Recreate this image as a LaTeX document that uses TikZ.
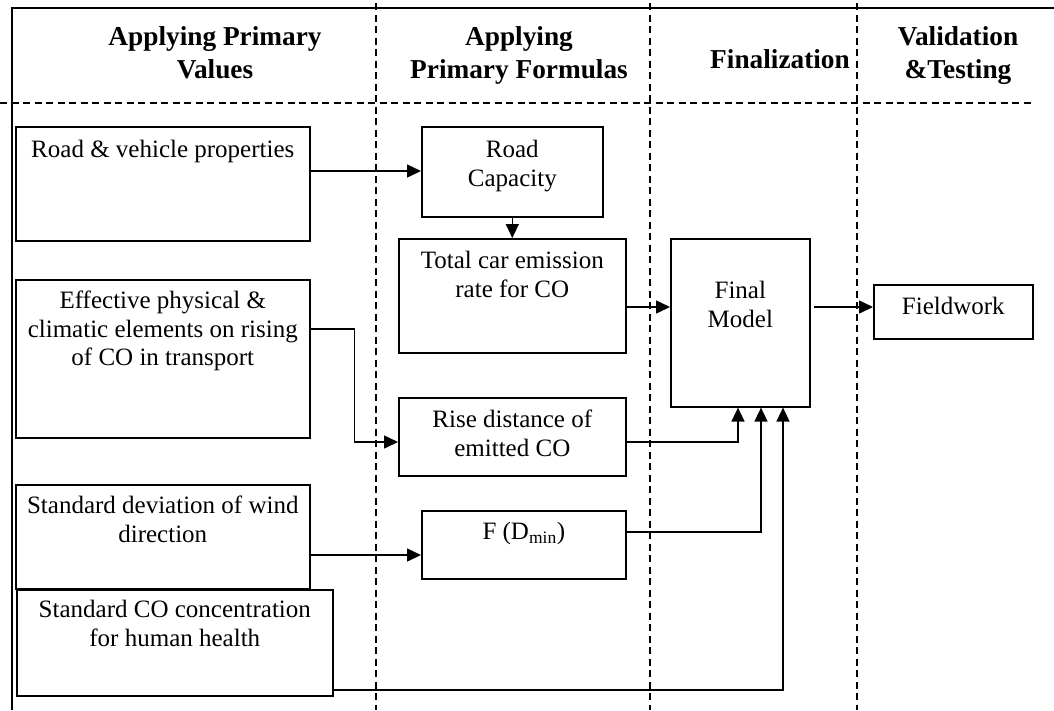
\documentclass[tikz,border=0pt]{standalone}
\usepackage{fontspec}
\setmainfont{Liberation Serif}
\usetikzlibrary{arrows.meta,calc}
\begin{document}
\begin{tikzpicture}[x=1pt,y=-1pt,
  box/.style={draw, line width=1.6pt, rectangle, inner sep=0pt, anchor=north west, fill=white},
  txt/.style={font=\fontsize{25}{28.5}\selectfont, align=center, inner sep=0pt, anchor=north},
  head/.style={font=\bfseries\fontsize{27.3}{32.5}\selectfont, align=center, inner sep=0pt, anchor=north},
  arr/.style={-{Triangle[length=14pt,width=13pt]}, line width=1.5pt},
  grid/.style={line width=1.3pt, dash pattern=on 7pt off 4.5pt},
  frame/.style={line width=1.6pt}]
\useasboundingbox (0,0) rectangle (1054,710);
% lane grid
\draw[grid] (0,103) -- (1033,103);
\draw[grid] (376,3) -- (376,710);
\draw[grid] (650,3) -- (650,710);
\draw[grid] (857,3) -- (857,710);
\draw[frame] (12,710) -- (12,8) -- (1054,8);
% headers
\node[head] (h1) at (215,26.5) {Applying Primary\\Values};
\node[head] (h2) at (519,26.5) {Applying\\Primary Formulas};
\node[head] (h3) at (780,49.5) {Finalization};
\node[head] (h4) at (958,26.5) {Validation\\\&Testing};
% boxes
\node[box, minimum width=294pt, minimum height=114pt,
  label={[txt, yshift=-14pt]north:{Road \& vehicle properties}}] (rv) at (15,126) {};
\node[box, minimum width=294pt, minimum height=158pt,
  label={[txt, yshift=-12pt]north:{Effective physical \&\\climatic elements on rising\\of CO in transport}}] (eff) at (15,279) {};
\node[box, minimum width=294pt, minimum height=104pt,
  label={[txt, yshift=-12pt]north:{Standard deviation of wind\\direction}}] (sdw) at (15,484) {};
\node[box, minimum width=316pt, minimum height=106pt,
  label={[txt, yshift=-11pt]north:{Standard CO concentration\\for human health}}] (sco) at (16,589) {};
\node[box, minimum width=181pt, minimum height=90pt,
  label={[txt, yshift=-14pt]north:{Road\\Capacity}}] (rc) at (421,126) {};
\node[box, minimum width=227pt, minimum height=114pt,
  label={[txt, yshift=-13pt]north:{Total car emission\\rate for CO}}] (tc) at (398,238) {};
\node[box, minimum width=227pt, minimum height=78pt,
  label={[txt, yshift=-13pt]north:{Rise distance of\\emitted CO}}] (rd) at (398,397) {};
\node[box, minimum width=204pt, minimum height=68pt,
  label={[txt, yshift=-12pt]north:{F (D\textsubscript{min})}}] (fd) at (421,510) {};
\node[box, minimum width=139pt, minimum height=168pt,
  label={[txt, yshift=-43pt]north:{Final\\Model}}] (fm) at (670,238) {};
\node[box, minimum width=159pt, minimum height=54pt,
  label={[txt, yshift=-13pt]north:{Fieldwork}}] (fw) at (873,284) {};
% connectors
\draw[arr] ($(rv.north east)+(0,45)$) -- ($(rc.north west)+(0,45)$);
\draw[arr] (rc.south) -- (tc.north);
\draw[arr] ($(eff.north east)+(0,50)$) -- ++(44,0) |- ($(rd.north west)+(0,45)$);
\draw[arr] ($(tc.north east)+(0,69)$) -- ($(fm.north west)+(0,69)$);
\draw[arr] ($(fm.north east)+(3,69)$) -- ($(fw.north west)+(0,23)$);
\draw[arr] ($(sdw.north east)+(0,71)$) -- ($(fd.north west)+(0,45)$);
\draw[arr] ($(rd.north east)+(0,45)$) -| ($(fm.south west)+(68,0)$);
\draw[arr] ($(fd.north east)+(0,22)$) -| ($(fm.south west)+(91,0)$);
\draw[arr] ($(sco.north east)+(0,101)$) -| ($(fm.south west)+(113,0)$);
\end{tikzpicture}
\end{document}
